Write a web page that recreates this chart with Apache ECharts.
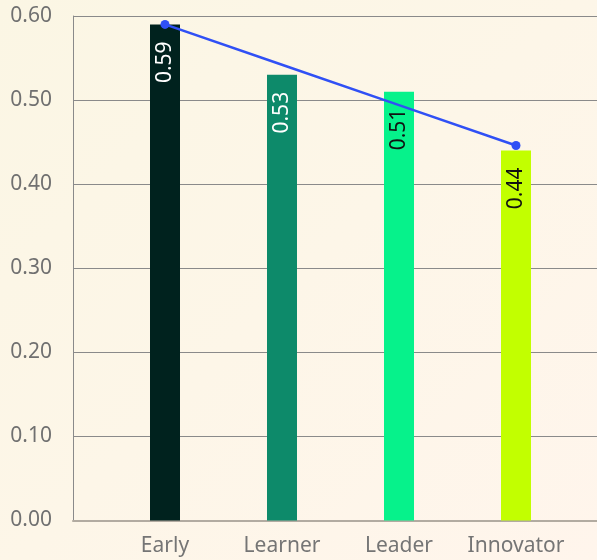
<!DOCTYPE html>
<html>
<head>
<meta charset="utf-8">
<title>Stage scores</title>
<script src="https://cdn.jsdelivr.net/npm/echarts@6/dist/echarts.min.js"></script>
<style>
  html, body { margin: 0; padding: 0; }
  body { width: 597px; height: 560px; background: linear-gradient(135deg, #fbf6e4 0%, #fdf6e8 50%, #fff5ec 100%); }
  #chart { width: 597px; height: 560px; }
</style>
</head>
<body>
<div id="chart"></div>
<script>
// Maturity stages and their scores
const stages = ['Early', 'Learner', 'Leader', 'Innovator'];
const scores = [0.59, 0.53, 0.51, 0.44];
// Straight trend drawn across the stages
const trendValues = [0.59, 0.542, 0.494, 0.446];
const stageColors = ['#00221e', '#0d8a6a', '#06f28b', '#c2ff00'];
const labelColors = ['#ffffff', '#ffffff', '#111111', '#111111'];
const yTicks = { min: 0, max: 0.6, interval: 0.1 };

const font = 'Noto Sans';
const chart = echarts.init(document.getElementById('chart'), null, { renderer: 'canvas' });

chart.setOption({
  backgroundColor: 'transparent',
  animation: false,
  textStyle: { fontFamily: font },
  grid: [
    // frame with value axis and gridlines
    { left: 73, right: 0, top: 16, bottom: 39.5, containLabel: false },
    // bands holding the bars
    { left: 106.5, right: 22.5, top: 16, bottom: 39.5, containLabel: false }
  ],
  xAxis: [
    {
      gridIndex: 0, type: 'category', data: [''],
      axisLine: { show: true, lineStyle: { color: '#b2aba1', width: 2 } },
      axisTick: { show: false }, axisLabel: { show: false }, splitLine: { show: false }
    },
    {
      gridIndex: 1, type: 'category', data: stages,
      axisLine: { show: false }, axisTick: { show: false },
      axisLabel: { color: '#757575', fontSize: 21, fontFamily: font, margin: 15, interval: 0 }
    }
  ],
  yAxis: [
    {
      gridIndex: 0, type: 'value', min: yTicks.min, max: yTicks.max, interval: yTicks.interval,
      axisLine: { show: true, lineStyle: { color: '#8a8a8a', width: 1 } },
      axisTick: { show: false },
      axisLabel: { color: '#707070', fontSize: 21, fontFamily: font, margin: 21,
                   formatter: v => v.toFixed(2) },
      splitLine: { show: true, lineStyle: { color: '#8a8a8a', width: 1 } }
    },
    {
      gridIndex: 1, type: 'value', min: yTicks.min, max: yTicks.max, interval: yTicks.interval,
      show: false, splitLine: { show: false }
    }
  ],
  series: [
    {
      type: 'bar', xAxisIndex: 1, yAxisIndex: 1, barWidth: 30,
      data: scores.map((v, i) => ({
        value: v,
        itemStyle: { color: stageColors[i] },
        label: { color: labelColors[i] }
      })),
      label: {
        show: true, position: 'insideTop', rotate: 90, align: 'right', verticalAlign: 'middle',
        distance: 17, fontSize: 21, fontFamily: font,
        formatter: p => p.value.toFixed(2)
      }
    },
    {
      type: 'line', xAxisIndex: 1, yAxisIndex: 1,
      data: trendValues.map((v, i) => ({
        value: v,
        symbolSize: (i === 0 || i === trendValues.length - 1) ? 9 : 0
      })),
      symbol: 'circle', showAllSymbol: true,
      lineStyle: { color: '#3050f5', width: 2.5 },
      itemStyle: { color: '#3050f5' },
      z: 5
    }
  ]
});
</script>
</body>
</html>
